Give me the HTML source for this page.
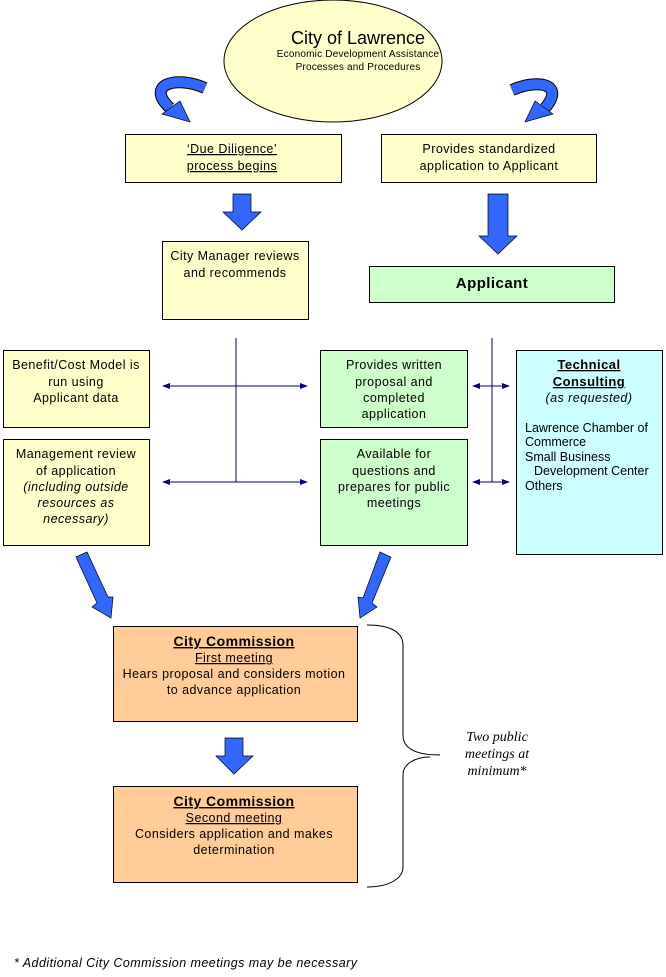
<!DOCTYPE html>
<html><head><meta charset="utf-8"><style>
body{margin:0;background:#fff}
svg{display:block}
text{font-family:"Liberation Sans",sans-serif;font-size:12.5px;letter-spacing:0.45px;fill:#000}
.u{text-decoration:underline}
.s{font-family:"Liberation Serif",serif;font-size:14px;font-style:italic;letter-spacing:0}
</style></head><body>
<svg width="666" height="977" viewBox="0 0 666 977">
<defs>
<marker id="ah" markerWidth="8" markerHeight="8" refX="7" refY="4" orient="auto" markerUnits="userSpaceOnUse"><path d="M0,1 L8,4 L0,7 Z" fill="#000080"/></marker>
<marker id="at" markerWidth="8" markerHeight="8" refX="1" refY="4" orient="auto" markerUnits="userSpaceOnUse"><path d="M8,1 L0,4 L8,7 Z" fill="#000080"/></marker>
</defs>
<ellipse cx="333" cy="61" rx="109" ry="61" fill="#FFFFCC" stroke="#000" stroke-width="1"/>
<text x="358" y="44" text-anchor="middle" style="font-size:18px;letter-spacing:0">City of Lawrence</text>
<text x="358" y="57" text-anchor="middle" style="font-size:10px;letter-spacing:0.2px">Economic Development Assistance</text>
<text x="358" y="70" text-anchor="middle" style="font-size:10px;letter-spacing:0.2px">Processes and Procedures</text>

<path d="M205,88 C175,75 145,85 170,108" fill="none" stroke="#000" stroke-width="12"/>
<path d="M205,88 C175,75 145,85 170,108" fill="none" stroke="#3366FF" stroke-width="10"/>
<polygon points="162,114 180,101 190,122" fill="#3366FF" stroke="#000" stroke-width="0.7"/>
<path d="M512,90 C540,78 565,85 545,108" fill="none" stroke="#000" stroke-width="12"/>
<path d="M512,90 C540,78 565,85 545,108" fill="none" stroke="#3366FF" stroke-width="10"/>
<polygon points="553,114 535,101 525,122" fill="#3366FF" stroke="#000" stroke-width="0.7"/>

<rect x="125.5" y="134.5" width="216" height="48" fill="#FFFFCC" stroke="#000"/>
<text x="232" y="153" text-anchor="middle" class="u">‘Due Diligence’</text>
<text x="232" y="170" text-anchor="middle" class="u">process begins</text>
<rect x="381.5" y="134.5" width="215" height="48" fill="#FFFFCC" stroke="#000"/>
<text x="489" y="153" text-anchor="middle">Provides standardized</text>
<text x="489" y="170" text-anchor="middle">application to Applicant</text>

<polygon points="233,194 251,194 251,212 261,212 242,230 223,212 233,212" fill="#3366FF" stroke="#000" stroke-width="0.7"/>
<polygon points="488,194 508,194 508,236 517,236 498,254 479,236 488,236" fill="#3366FF" stroke="#000" stroke-width="0.7"/>

<rect x="162.5" y="241.5" width="146" height="78" fill="#FFFFCC" stroke="#000"/>
<text x="235" y="260" text-anchor="middle">City Manager reviews</text>
<text x="235" y="277" text-anchor="middle">and recommends</text>
<rect x="369.5" y="266.5" width="245" height="36" fill="#CCFFCC" stroke="#000"/>
<text x="492" y="288" text-anchor="middle" style="font-size:15px;font-weight:bold">Applicant</text>

<g stroke="#000080" stroke-width="1" fill="none">
<line x1="236" y1="338" x2="236" y2="482"/>
<line x1="163" y1="386" x2="307" y2="386" marker-start="url(#at)" marker-end="url(#ah)"/>
<line x1="163" y1="482" x2="307" y2="482" marker-start="url(#at)" marker-end="url(#ah)"/>
<line x1="492" y1="338" x2="492" y2="482"/>
<line x1="473" y1="386" x2="509" y2="386" marker-start="url(#at)" marker-end="url(#ah)"/>
<line x1="473" y1="482" x2="509" y2="482" marker-start="url(#at)" marker-end="url(#ah)"/>
</g>

<rect x="3.5" y="350.5" width="146" height="77" fill="#FFFFCC" stroke="#000"/>
<text x="76" y="369" text-anchor="middle">Benefit/Cost Model is</text>
<text x="76" y="386" text-anchor="middle">run using</text>
<text x="76" y="402" text-anchor="middle">Applicant data</text>
<rect x="3.5" y="439.5" width="146" height="106" fill="#FFFFCC" stroke="#000"/>
<text x="76" y="458" text-anchor="middle">Management review</text>
<text x="76" y="475" text-anchor="middle">of application</text>
<text x="76" y="491" text-anchor="middle" font-style="italic">(including outside</text>
<text x="76" y="507" text-anchor="middle" font-style="italic">resources as</text>
<text x="76" y="523" text-anchor="middle" font-style="italic">necessary)</text>

<rect x="320.5" y="350.5" width="147" height="77" fill="#CCFFCC" stroke="#000"/>
<text x="394" y="369" text-anchor="middle">Provides written</text>
<text x="394" y="386" text-anchor="middle">proposal and</text>
<text x="394" y="402" text-anchor="middle">completed</text>
<text x="394" y="418" text-anchor="middle">application</text>
<rect x="320.5" y="439.5" width="147" height="106" fill="#CCFFCC" stroke="#000"/>
<text x="394" y="458" text-anchor="middle">Available for</text>
<text x="394" y="475" text-anchor="middle">questions and</text>
<text x="394" y="491" text-anchor="middle">prepares for public</text>
<text x="394" y="507" text-anchor="middle">meetings</text>

<rect x="516.5" y="350.5" width="146" height="204" fill="#CCFFFF" stroke="#000"/>
<text x="589" y="369" text-anchor="middle" font-weight="bold" class="u" style="font-size:13px">Technical</text>
<text x="589" y="386" text-anchor="middle" font-weight="bold" class="u" style="font-size:13px">Consulting</text>
<text x="589" y="402" text-anchor="middle" font-style="italic">(as requested)</text>
<text x="525" y="432" style="letter-spacing:0">Lawrence Chamber of</text>
<text x="525" y="446" style="letter-spacing:0">Commerce</text>
<text x="525" y="461" style="letter-spacing:0">Small Business</text>
<text x="534" y="475" style="letter-spacing:0">Development Center</text>
<text x="525" y="490" style="letter-spacing:0">Others</text>

<polygon points="76,557 87,552 108,597 113,597 111,618 92,607 97,603" fill="#3366FF" stroke="#000" stroke-width="0.7"/>
<polygon points="380,552 391,557 372,603 377,607 360,618 358,597 363,598" fill="#3366FF" stroke="#000" stroke-width="0.7"/>

<rect x="113.5" y="626.5" width="244" height="95" fill="#FFCC99" stroke="#000"/>
<text x="234" y="646" text-anchor="middle" font-weight="bold" class="u" style="font-size:14px">City Commission</text>
<text x="234" y="662" text-anchor="middle" class="u">First meeting</text>
<text x="234" y="678" text-anchor="middle">Hears proposal and considers motion</text>
<text x="234" y="694" text-anchor="middle">to advance application</text>

<polygon points="225,738 243,738 243,756 253,756 234,774 216,756 225,756" fill="#3366FF" stroke="#000" stroke-width="0.7"/>

<rect x="113.5" y="786.5" width="244" height="96" fill="#FFCC99" stroke="#000"/>
<text x="234" y="806" text-anchor="middle" font-weight="bold" class="u" style="font-size:14px">City Commission</text>
<text x="234" y="822" text-anchor="middle" class="u">Second meeting</text>
<text x="234" y="838" text-anchor="middle">Considers application and makes</text>
<text x="234" y="854" text-anchor="middle">determination</text>

<path d="M367,625 C390,625 403,632 403,645 L403,735 C403,748 415,755 440,755 M430,757 C415,757 403,764 403,775 L403,867 C403,878 390,887 367,887" fill="none" stroke="#000" stroke-width="1"/>
<text x="497" y="741" text-anchor="middle" class="s">Two public</text>
<text x="497" y="758" text-anchor="middle" class="s">meetings at</text>
<text x="497" y="775" text-anchor="middle" class="s">minimum*</text>

<text x="14" y="967" font-style="italic">* Additional City Commission meetings may be necessary</text>
</svg>
</body></html>
